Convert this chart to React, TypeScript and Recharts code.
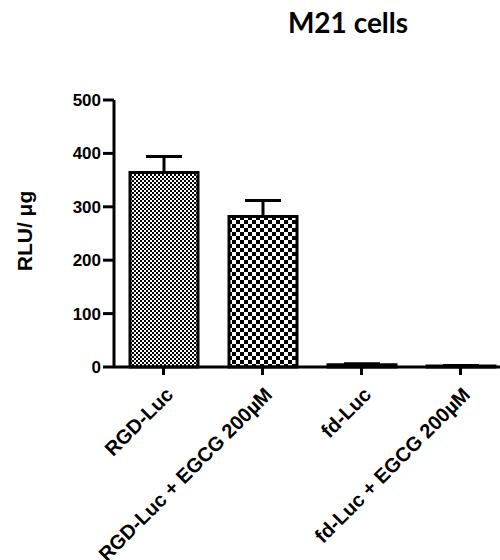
import React from 'react';
import { BarChart, Bar, Cell, XAxis, YAxis, ErrorBar } from 'recharts';

const categories = ['RGD-Luc', 'RGD-Luc + EGCG 200µM', 'fd-Luc', 'fd-Luc + EGCG 200µM'];
const means = [364, 282, 4, 2];
const errors = [30, 30, 2, 1];
const yTicks = [0, 100, 200, 300, 400, 500];
const fills = ['url(#fineCheck)', 'url(#coarseCheck)', 'url(#fineCheck)', 'url(#coarseCheck)'];

const data = categories.map((name, i) => ({ name, value: means[i], err: [0, errors[i]] }));

const FONT = '"Liberation Sans", Arial, sans-serif';

const XTick = ({ x, y, payload }: any) => (
  <g transform={`translate(${x + 1},${y + 9})`}>
    <text x={0} y={0} dy={14} textAnchor="end" transform="rotate(-45)" fontFamily={FONT} fontWeight="bold" fontSize={20} fill="#000">
      {payload.value}
    </text>
  </g>
);

const YTick = ({ x, y, payload }: any) => (
  <text x={x} y={y} dy={6} textAnchor="end" fontFamily={FONT} fontWeight="bold" fontSize={17} fill="#000">
    {payload.value}
  </text>
);

const YLabel = () => (
  <text x={32} y={231} transform="rotate(-90 32 231)" textAnchor="middle" fontFamily={FONT} fontWeight="bold" fontSize={21} fill="#000">
    RLU/ μg
  </text>
);

export default function App() {
  const axisStyle = { stroke: '#000', strokeWidth: 3 };
  return (
    <div style={{ position: 'absolute', left: 0, top: 0, width: 500, height: 560, overflow: 'hidden', background: '#fff' }}>
      <svg width={0} height={0} style={{ position: 'absolute' }}>
        <defs>
          <pattern id="fineCheck" width={4} height={4} patternUnits="userSpaceOnUse">
            <rect width={4} height={4} fill="#fff" />
            <rect x={0} y={0} width={2} height={2} fill="#000" />
            <rect x={2} y={2} width={2} height={2} fill="#000" />
          </pattern>
          <pattern id="coarseCheck" width={8} height={8} patternUnits="userSpaceOnUse">
            <rect width={8} height={8} fill="#fff" />
            <rect x={0} y={0} width={4} height={4} fill="#000" />
            <rect x={4} y={4} width={4} height={4} fill="#000" />
          </pattern>
        </defs>
      </svg>
      <div
        style={{
          position: 'absolute',
          left: 248,
          top: 8,
          width: 200,
          textAlign: 'center',
          fontFamily: 'Lato, sans-serif',
          fontWeight: 'bold',
          fontSize: 28,
          lineHeight: '28px',
          color: '#000',
        }}
      >
        M21 cells
      </div>
      <BarChart width={512} height={560} data={data} margin={{ top: 100, right: 2, left: 0, bottom: 0 }} barSize={68}>
        <XAxis
          dataKey="name"
          height={193}
          interval={0}
          axisLine={axisStyle}
          tickLine={axisStyle}
          tickSize={8}
          tick={<XTick />}
        />
        <YAxis
          width={114}
          domain={[0, 500]}
          ticks={yTicks}
          axisLine={axisStyle}
          tickLine={axisStyle}
          tickSize={11}
          tickMargin={2}
          tick={<YTick />}
          label={{ content: <YLabel /> }}
        />
        <Bar dataKey="value" stroke="#000" strokeWidth={3} isAnimationActive={false}>
          {data.map((_, i) => (
            <Cell key={i} fill={fills[i]} />
          ))}
          <ErrorBar dataKey="err" width={18} stroke="#000" strokeWidth={3} />
        </Bar>
      </BarChart>
    </div>
  );
}
